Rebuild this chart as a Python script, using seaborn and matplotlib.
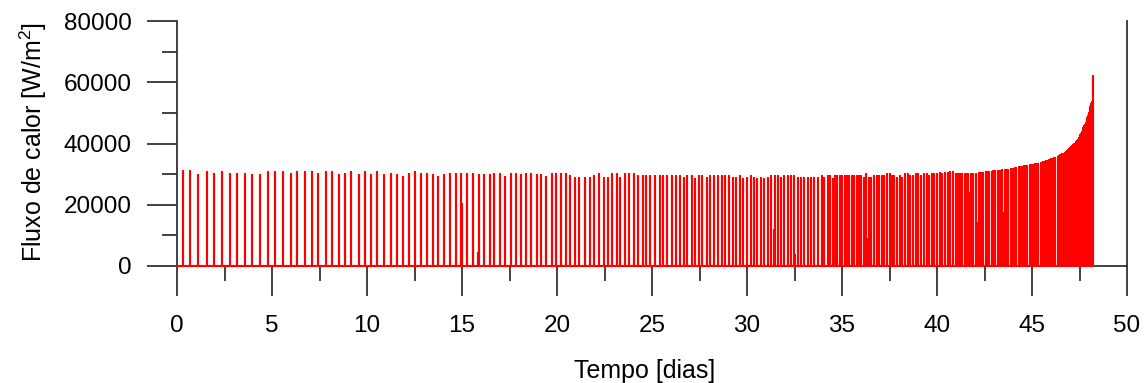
import numpy as np
import pandas as pd
import matplotlib
matplotlib.use("Agg")
import matplotlib.pyplot as plt
from matplotlib.ticker import MultipleLocator
import seaborn as sns

# Heat-flux pulses: time of each pulse [days] and its peak value [W/m2]
times_a = [0.29, 0.70, 1.11, 1.57, 1.97, 2.39, 2.79, 3.18, 3.57, 3.97,
           4.38, 4.78, 5.18, 5.58, 5.98, 6.32]
heights_a = [31000, 31000, 29600, 30600, 30000, 30600, 30000, 30000, 30000, 29600,
             29600, 30600, 30600, 30600, 30000, 30600]

times_b = [6.74, 7.09, 7.40, 7.82, 8.14, 8.53, 8.86, 9.18, 9.58, 9.89,
           10.23, 10.54, 10.88, 11.26, 11.60, 11.89, 12.23, 12.54, 12.86, 13.18,
           13.49]
heights_b = [30600, 30600, 30000, 30600, 30600, 29600, 30000, 30600, 29600, 30600,
             29600, 30600, 29600, 30000, 29600, 28950, 30000, 30600, 30000, 30000,
             29600]

times_c = [13.74, 14.05, 14.37, 14.68, 14.95, 15.26, 15.58, 15.88, 16.14, 16.46,
           16.68, 17.00, 17.26, 17.58, 17.83, 18.12, 18.37, 18.61, 18.93, 19.17,
           19.42, 19.72, 19.96, 20.21]
heights_c = [28950, 29600, 30000, 30000, 30000, 30000, 30000, 29600, 29600, 29600,
             30000, 30000, 28950, 30000, 30000, 29600, 30000, 30000, 29600, 29600,
             28950, 30000, 30000, 30000]

times_d = [20.47, 20.70, 20.93, 21.18, 21.49, 21.74, 21.96, 22.19, 22.46, 22.68,
           22.91, 23.14, 23.33, 23.58, 23.81, 24.04, 24.28, 24.51, 24.68, 24.91,
           25.16, 25.40, 25.58, 25.81, 26.04, 26.25, 26.46, 26.67, 26.86, 27.09,
           27.25]
heights_d = [29900, 29500, 28800, 28800, 28800, 28800, 29500, 29900, 28800, 28800,
             29900, 29900, 28800, 29900, 29900, 29900, 29500, 29500, 29500, 29500,
             29500, 29500, 29500, 29500, 29500, 29500, 29500, 28800, 29500, 29500,
             28400]

times_e = [27.47, 27.65, 27.88, 28.05, 28.26, 28.46, 28.67, 28.84, 29.07, 29.25,
           29.42, 29.63, 29.81, 29.98, 30.19, 30.37, 30.53, 30.74, 30.91, 31.09,
           31.26, 31.49, 31.65, 31.79, 31.96, 32.14, 32.32, 32.47, 32.67, 32.84,
           33.02, 33.19, 33.37, 33.54, 33.72, 33.93, 34.07]
heights_e = [29500, 29500, 28800, 29500, 29500, 29500, 29500, 29500, 29500, 28800,
             28800, 29500, 28400, 28800, 29500, 28800, 28400, 28800, 28400, 28800,
             29500, 29500, 29500, 28800, 29500, 29500, 29500, 29500, 28800, 28800,
             28800, 28800, 28800, 28800, 28800, 29500, 28800]

times_f = [34.25, 34.39, 34.53, 34.63, 34.75, 34.89, 35.02, 35.16, 35.26, 35.39,
           35.51, 35.63, 35.77, 35.89, 36.02, 36.14, 36.26, 36.40, 36.53, 36.67,
           36.82, 36.95, 37.09, 37.23, 37.37, 37.51, 37.61, 37.75, 37.89, 38.04,
           38.16, 38.32, 38.46, 38.60, 38.74, 38.88, 39.02, 39.16, 39.30, 39.46,
           39.60, 39.72, 39.86, 40.00, 40.14, 40.28, 40.42, 40.56, 40.70, 40.84]
heights_f = [29500, 29500, 28400, 29500, 29500, 29500, 29500, 29500, 29500, 29500,
             29500, 29500, 29500, 29500, 29500, 28800, 29900, 28800, 28800, 29500,
             29500, 29500, 29500, 29500, 29900, 29900, 29500, 29500, 28800, 29500,
             28800, 29900, 29900, 29500, 29500, 29900, 29900, 29500, 29900, 29900,
             29500, 29900, 29900, 29900, 30300, 29900, 30300, 30300, 30600, 30600]

times_g = [41.00, 41.10, 41.20, 41.29, 41.45, 41.55, 41.64, 41.72, 41.80, 41.88,
           42.04, 42.14, 42.23, 42.32, 42.41, 42.58, 42.67, 42.75, 42.89, 42.97,
           43.05, 43.20, 43.29, 43.40, 43.49, 43.58, 43.67, 43.76, 43.92, 44.00,
           44.08, 44.16, 44.32, 44.40, 44.48, 44.56, 44.64, 44.72, 44.90, 44.98,
           45.06, 45.14, 45.22, 45.30, 45.46, 45.53, 45.60, 45.67, 45.74, 45.81,
           45.88, 45.95, 46.02, 46.09, 46.16, 46.22, 46.36, 46.42, 46.48, 46.54,
           46.60, 46.66, 46.72, 46.77, 46.82, 46.87, 46.92, 46.97, 47.02, 47.07,
           47.12, 47.17, 47.22, 47.27, 47.32, 47.37, 47.42, 47.47, 47.51, 47.55,
           47.59, 47.63, 47.67, 47.71, 47.75, 47.79, 47.83, 47.87, 47.91, 47.95,
           47.99, 48.03, 48.06, 48.09, 48.12, 48.15, 48.18, 48.20]
heights_g = [30000, 30000, 30000, 30100, 30100, 30100, 30100, 24000, 30100, 30200,
             30200, 14000, 30300, 30300, 30400, 30600, 30600, 30700, 30800, 30900,
             31000, 31000, 31100, 31200, 17200, 31300, 31400, 31500, 31700, 31800,
             31900, 32000, 32200, 32300, 32400, 32500, 32600, 32700, 32900, 33000,
             33100, 33200, 33300, 33400, 33600, 33700, 33850, 34000, 34150, 34300,
             34500, 34650, 34800, 35000, 35200, 35350, 35700, 35900, 36100, 36300,
             36500, 36700, 36950, 37200, 37450, 37700, 37950, 38200, 38500, 38800,
             39100, 39400, 39700, 40000, 40400, 40800, 41200, 41700, 42200, 42700,
             43200, 43800, 44400, 45000, 45600, 46200, 46800, 47400, 48200, 49000,
             50000, 50900, 51800, 52500, 53000, 53200, 53500, 62000]

# Weaker secondary pulses right after a main one
times_p = [10.92, 15.00, 15.82, 31.40, 32.53, 35.30, 36.35]
heights_p = [15600, 20150, 4100, 11800, 3600, 7600, 8700]

x_ticks_major = 5
x_ticks_minor = 2.5
y_ticks_major = 20000
y_ticks_minor = 10000

# Assemble pulses in time order; each one rises from and returns to zero
pulse_t = np.array(times_a + times_b + times_c + times_d + times_e + times_f
                   + times_g + times_p, dtype=float)
pulse_q = np.array(heights_a + heights_b + heights_c + heights_d + heights_e
                   + heights_f + heights_g + heights_p, dtype=float)
order = np.argsort(pulse_t, kind="stable")
pulse_t, pulse_q = pulse_t[order], pulse_q[order]

t_series = np.concatenate([[0.0], np.repeat(pulse_t, 3)])
q_series = np.concatenate([[0.0], np.column_stack(
    [np.zeros_like(pulse_q), pulse_q, np.zeros_like(pulse_q)]).ravel()])
df = pd.DataFrame({"t": t_series, "q": q_series})

sns.set_style("ticks")
plt.rcParams["font.family"] = ["Liberation Sans", "DejaVu Sans"]
plt.rcParams["mathtext.default"] = "regular"

W, H = 1147, 383
fig = plt.figure(figsize=(W / 100, H / 100), dpi=100, facecolor="white")
ax = fig.add_axes([177 / W, 1 - 266 / H, 950 / W, 245 / H])

sns.lineplot(data=df, x="t", y="q", sort=False, estimator=None,
             color="#ff0000", linewidth=1.5, ax=ax, zorder=3, clip_on=False)

ax.set_xlim(0, 50)
ax.set_ylim(0, 80000)
ax.xaxis.set_major_locator(MultipleLocator(x_ticks_major))
ax.xaxis.set_minor_locator(MultipleLocator(x_ticks_minor))
ax.yaxis.set_major_locator(MultipleLocator(y_ticks_major))
ax.yaxis.set_minor_locator(MultipleLocator(y_ticks_minor))

edge = "#333333"
for side in ("left", "bottom", "right"):
    ax.spines[side].set_color(edge)
    ax.spines[side].set_linewidth(1.3)
ax.spines["top"].set_visible(False)

ax.tick_params(which="both", direction="out", color=edge, width=1.3,
               labelsize=17.5, labelcolor="black")
ax.tick_params(which="major", length=21.6)
ax.tick_params(which="minor", length=10.8)
ax.tick_params(axis="y", pad=10.8)
ax.tick_params(axis="x", pad=14)

ax.set_xlabel("Tempo [dias]", fontsize=18, color="black")
ax.set_ylabel("Fluxo de calor [W/m$^{2}$]", fontsize=18, color="black")
ax.xaxis.set_label_coords(0.4926, -0.378)
ax.yaxis.set_label_coords(-0.135, 0.506)

fig.savefig("out.png", dpi=100, facecolor="white")
